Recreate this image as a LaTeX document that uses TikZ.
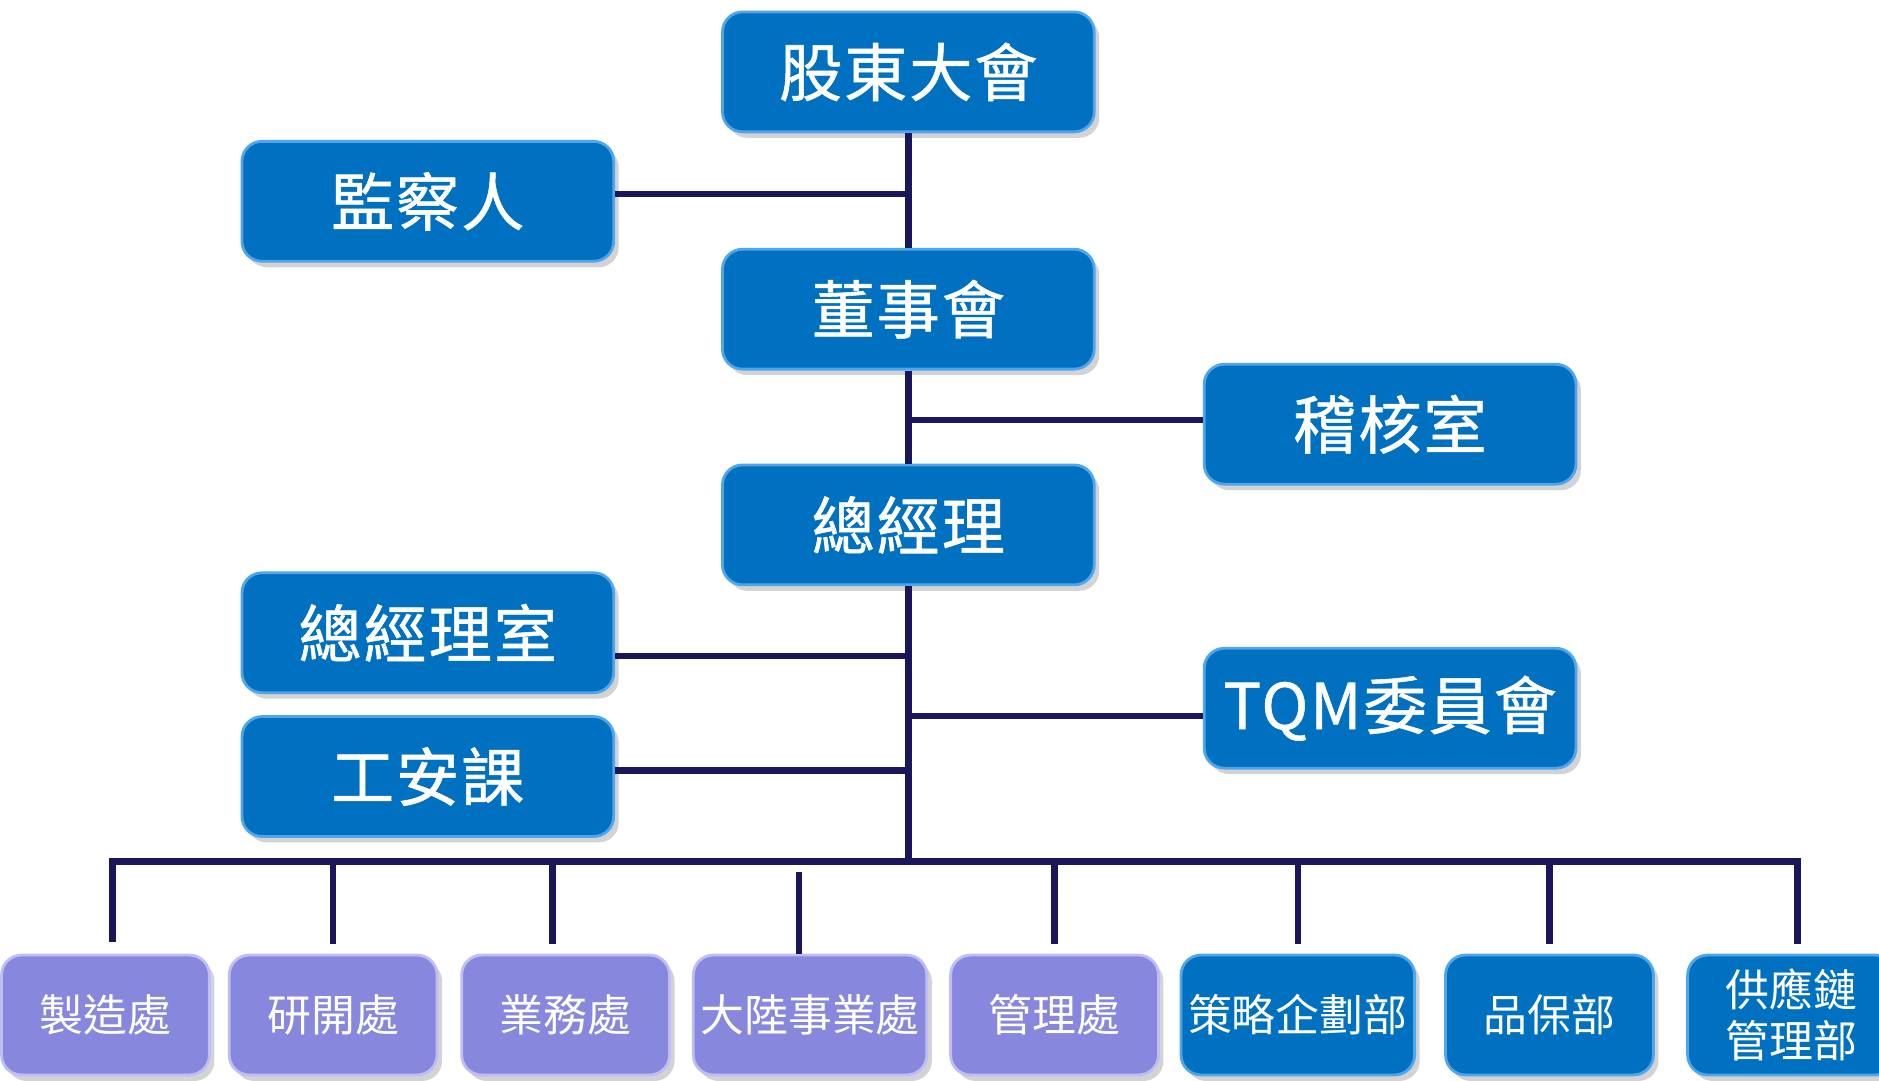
\documentclass[tikz,border=0pt]{standalone}
\usepackage{fontspec}
\newfontfamily\cjk{Noto Sans CJK TC}
\newfontfamily\cjkhead[FakeBold=0.9, LetterSpace=3]{Noto Sans CJK TC}
\usetikzlibrary{shadows}
\definecolor{boxblue}{RGB}{0,112,192}
\definecolor{boxpurple}{RGB}{135,135,222}
\definecolor{linknavy}{RGB}{25,22,92}
\definecolor{rimblue}{RGB}{80,165,235}
\definecolor{rimpurple}{RGB}{190,190,245}

\begin{document}
\begin{tikzpicture}[x=0.012cm, y=-0.012cm,
    unit/.style ={rectangle, rounded corners=0.2cm, fill=boxblue, draw=rimblue, line width=0.8pt,
      text=white, inner sep=2pt, minimum width=3.72cm, minimum height=1.2cm,
      font=\cjkhead\fontsize{18}{21}\selectfont,
      drop shadow={shadow xshift=0.05cm, shadow yshift=-0.06cm, opacity=0.35}},
    dept/.style ={unit, minimum width=2.08cm, align=center, font=\cjk\fontsize{12.5}{15}\selectfont},
    purpledept/.style ={dept, fill=boxpurple, draw=rimpurple},
    link/.style ={draw=linknavy, line width=1.8pt}]
   \useasboundingbox (0,0) rectangle (1568,902);
   % top of the chart
   \node[unit] (meeting) at (758,60) {股東大會};
   \node[unit] (supervisor) at (357,168) {監察人};
   \node[unit] (board) at (758,258) {董事會};
   \node[unit] (audit) at (1160,354) {稽核室};
   \node[unit] (gm) at (758,438) {總經理};
   \node[unit] (gmoffice) at (357,528) {總經理室};
   \node[unit] (tqm) at (1160,591) {TQM委員會};
   \node[unit] (safety) at (357,648) {工安課};
   \coordinate (bus) at (758,719);
   % departments
   \node[purpledept] (b1) at (88,847) {製造處};
   \node[purpledept] (b2) at (278,847) {研開處};
   \node[purpledept] (b3) at (472,847) {業務處};
   \node[purpledept, minimum width=2.3cm] (b4) at (676,847) {大陸事業處};
   \node[purpledept] (b5) at (880,847) {管理處};
   \node[dept, minimum width=2.3cm] (b6) at (1083,847) {策略企劃部};
   \node[dept] (b7) at (1293,847) {品保部};
   \node[dept, font=\cjk\fontsize{12.5}{14.5}\selectfont] (b8) at (1495,847) {供應鏈\\管理部};
   % trunk
   \draw[link] (meeting.south) -- (board.north);
   \draw[link] (board.south) -- (gm.north);
   \draw[link] (gm.south) -- (bus);
   \draw[link] ([yshift=0.07cm]supervisor.east) -- ([yshift=0.07cm]supervisor.east -| meeting.south);
   \draw[link] ([yshift=0.04cm]audit.west) -- ([yshift=0.04cm]audit.west -| board.south);
   \draw[link] ([yshift=-0.23cm]gmoffice.east) -- ([yshift=-0.23cm]gmoffice.east -| gm.south);
   \draw[link] ([yshift=-0.08cm]tqm.west) -- ([yshift=-0.08cm]tqm.west -| gm.south);
   \draw[link] ([yshift=0.06cm]safety.east) -- ([yshift=0.06cm]safety.east -| gm.south);
   % bus and drops
   \draw[link] ([xshift=0.07cm, yshift=0.12cm]b1.north) |- (bus) -| ([xshift=0.06cm, yshift=0.1cm]b8.north);
   \draw[link] (b2.north |- bus) -- ([yshift=0.1cm]b2.north);
   \draw[link] ([xshift=-0.13cm]b3.north |- bus) -- ([xshift=-0.13cm, yshift=0.1cm]b3.north);
   \draw[link] ([xshift=-0.11cm, yshift=-0.1cm]b4.north |- bus) -- ([xshift=-0.11cm]b4.north);
   \draw[link] (b5.north |- bus) -- ([yshift=0.1cm]b5.north);
   \draw[link] (b6.north |- bus) -- ([yshift=0.1cm]b6.north);
   \draw[link] (b7.north |- bus) -- ([yshift=0.1cm]b7.north);
 \end{tikzpicture}
\end{document}
